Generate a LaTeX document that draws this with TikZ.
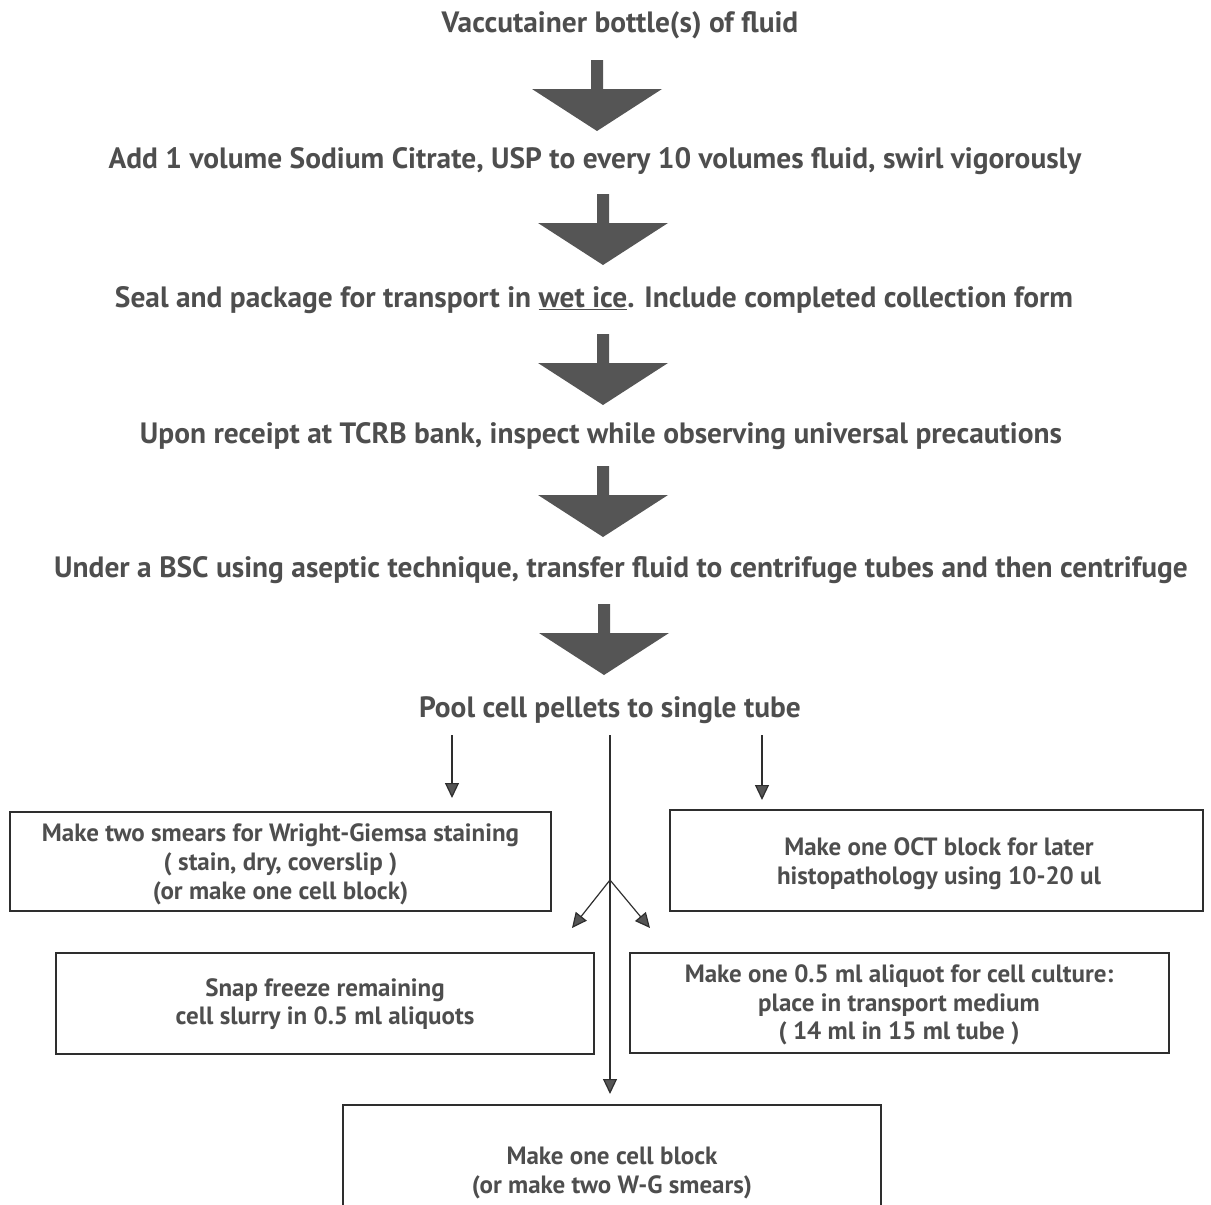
\documentclass[tikz,border=0pt]{standalone}
\usepackage{fontspec}
\setmainfont{PT Sans}
\usetikzlibrary{arrows.meta}
\definecolor{txt}{HTML}{4E4E4E}
\definecolor{blk}{HTML}{555555}
\definecolor{edge}{HTML}{2E2E2E}
\begin{document}
\begin{tikzpicture}[x=1pt,y=-1pt,
  steptext/.style={font=\fontsize{29.4}{34}\selectfont\bfseries, text=txt, inner sep=0pt, yshift=-3pt},
  box/.style={draw=edge, line width=1.4pt, inner sep=0pt},
  boxtext/.style={font=\fontsize{25}{28.7}\selectfont\bfseries, text=txt, align=center, inner sep=0pt, yshift=-3pt},
  thin/.style={draw=edge, line width=1.2pt, -{Triangle[width=14pt,length=15pt,fill=blk]}},
  bigarrow/.style={fill=blk, draw=none}
]
\useasboundingbox (0,0) rectangle (1211,1205);

% main sequence of steps
\node[steptext] (t1) at (620,22) {Vaccutainer bottle(s) of fluid};
\node[steptext] (t2) at (595,158) {Add 1 volume Sodium Citrate, USP to every 10 volumes fluid, swirl vigorously};
\node[steptext] (t3) at (594,297) {Seal and package for transport in \underline{wet ice}. Include completed collection form};
\node[steptext] (t4) at (601,433) {Upon receipt at TCRB bank, inspect while observing universal precautions};
\node[steptext] (t5) at (621,567) {Under a BSC using aseptic technique, transfer fluid to centrifuge tubes and then centrifuge};
\node[steptext] (t6) at (610,707) {Pool cell pellets to single tube};

% block arrows between the steps (anchored at the top of the stem)
\coordinate (a1) at (597,60);
\coordinate (a2) at (603,194);
\coordinate (a3) at (603,334);
\coordinate (a4) at (603,466);
\coordinate (a5) at (604,604);
\foreach \a in {a1,a2,a3,a4,a5}{
  \fill[bigarrow] (\a) ++(-6,0) -- ++(0,29) -- ++(-59,0) -- ++(65,42) -- ++(65,-42) -- ++(-59,0) -- ++(0,-29) -- cycle;
}

% output boxes
\node[box, minimum width=541pt, minimum height=99pt] (b1) at (280.5,861.5) {};
\node[boxtext] (b1t) at (b1.center) {Make two smears for Wright-Giemsa staining\\( stain, dry, coverslip )\\(or make one cell block)};
\node[box, minimum width=533pt, minimum height=101pt] (b2) at (936.5,860.5) {};
\node[boxtext] (b2t) at (939,861) {Make one OCT block for later\\histopathology using 10-20 ul};
\node[box, minimum width=538pt, minimum height=101pt] (b3) at (325,1003.5) {};
\node[boxtext] (b3t) at (325,1001) {Snap freeze remaining\\cell slurry in 0.5 ml aliquots};
\node[box, minimum width=539pt, minimum height=100pt] (b4) at (899.5,1003) {};
\node[boxtext] (b4t) at (899,1002) {Make one 0.5 ml aliquot for cell culture:\\place in transport medium\\( 14 ml in 15 ml tube )};
\node[box, minimum width=538pt, minimum height=102pt] (b5) at (612,1156) {};
\node[boxtext] (b5t) at (612,1170) {Make one cell block\\(or make two W-G smears)};

% splitting connectors below the pooled pellet
\coordinate (l0) at (452,735);
\coordinate (l1) at (452,798);
\coordinate (r0) at (762,735);
\coordinate (r1) at (762,800);
\coordinate (c0) at (610,735);
\coordinate (c1) at (610,1094);
\coordinate (fork) at (610,880);
\coordinate (fl) at (572,928);
\coordinate (fr) at (650,928);
\draw[thin] (l0) -- (l1);
\draw[thin] (r0) -- (r1);
\draw[thin] (c0) -- (c1);
\draw[thin] (fork) -- (fl);
\draw[thin] (fork) -- (fr);
\end{tikzpicture}
\end{document}
